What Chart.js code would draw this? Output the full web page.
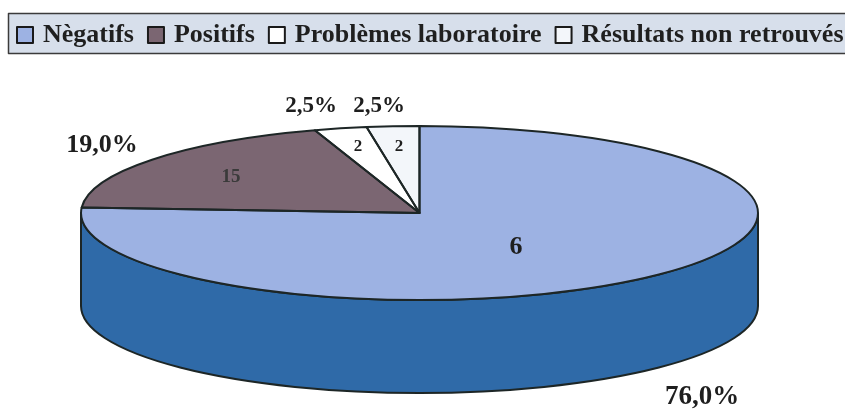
<!DOCTYPE html>
<html>
<head>
<meta charset="utf-8">
<script src="https://cdn.jsdelivr.net/npm/chart.js@4.4.1/dist/chart.umd.min.js"></script>
<style>
  html, body { margin: 0; padding: 0; background: #fff; overflow: hidden; }
  canvas { display: block; }
</style>
</head>
<body>
<canvas id="pieChart" width="845" height="409"></canvas>
<script>
const categories = ['Nègatifs', 'Positifs', 'Problèmes laboratoire', 'Résultats non retrouvés'];
const percents = [76.0, 19.0, 2.5, 2.5];
const counts = [6, 15, 2, 2];

const topColors = ['#9db2e3', '#7b6672', '#ffffff', '#f3f6fa'];
const sideColors = ['#2f6aa8', '#4e3f48', '#bfbfbf', '#b8bcc2'];
const edge = '#1d2626';
const depth = 93;
const serif = '"Liberation Serif", "Times New Roman", serif';

// label spots
const pctPos = [[702, 397], [102, 145], [311, 106], [379, 106]];
const pctSize = [27, 26, 23, 23];
const cntPos = [[516, 247], [231, 177], [358, 147], [399, 147]];
const cntSize = [26, 19, 17, 17];

function ellipseOf(chart) {
  const arc = chart.getDatasetMeta(0).data[0];
  const area = chart.chartArea;
  return { cx: arc.x, cy: arc.y, rx: (area.right - area.left) / 2, ry: arc.outerRadius };
}

const pie3d = {
  id: 'pie3d',
  beforeDatasetsDraw(chart) {
    const ctx = chart.ctx;
    const e = ellipseOf(chart);
    // side wall (front half only)
    chart.getDatasetMeta(0).data.forEach((arc, i) => {
      const a1 = Math.max(arc.startAngle, 0);
      const a2 = Math.min(arc.endAngle, Math.PI);
      if (a2 <= a1) return;
      ctx.beginPath();
      ctx.ellipse(e.cx, e.cy, e.rx, e.ry, 0, a1, a2);
      ctx.ellipse(e.cx, e.cy + depth, e.rx, e.ry, 0, a2, a1, true);
      ctx.closePath();
      ctx.fillStyle = sideColors[i];
      ctx.fill();
      ctx.lineWidth = 2;
      ctx.strokeStyle = edge;
      ctx.stroke();
    });
    // squash the round pie into the flat top face
    ctx.save();
    ctx.translate(e.cx, 0);
    ctx.scale(e.rx / e.ry, 1);
    ctx.translate(-e.cx, 0);
  },
  afterDatasetsDraw(chart) {
    const ctx = chart.ctx;
    ctx.restore();
    const e = ellipseOf(chart);
    ctx.lineWidth = 2;
    ctx.strokeStyle = edge;
    ctx.lineJoin = 'round';
    chart.getDatasetMeta(0).data.forEach(arc => {
      ctx.beginPath();
      ctx.moveTo(e.cx, e.cy);
      ctx.ellipse(e.cx, e.cy, e.rx, e.ry, 0, arc.startAngle, arc.endAngle);
      ctx.closePath();
      ctx.stroke();
    });
  },
  afterDraw(chart) {
    const ctx = chart.ctx;
    ctx.save();

    // legend strip across the top
    ctx.fillStyle = '#d7dfeb';
    ctx.fillRect(8, 13, 850, 40);
    ctx.strokeStyle = '#3b3b3b';
    ctx.lineWidth = 1.5;
    ctx.strokeRect(8.5, 13.5, 850, 40);
    ctx.font = 'bold 26px ' + serif;
    ctx.textAlign = 'left';
    ctx.textBaseline = 'alphabetic';
    let x = 17;
    categories.forEach((name, i) => {
      ctx.fillStyle = topColors[i];
      ctx.fillRect(x, 27, 16, 16);
      ctx.strokeStyle = '#1a1a1a';
      ctx.lineWidth = 2;
      ctx.strokeRect(x, 27, 16, 16);
      ctx.fillStyle = '#1f1f1f';
      ctx.fillText(name, x + 26, 42);
      x += 26 + ctx.measureText(name).width + 14;
    });

    // percentages outside, counts inside
    ctx.textAlign = 'center';
    ctx.textBaseline = 'middle';
    ctx.fillStyle = '#1e1e1e';
    percents.forEach((p, i) => {
      ctx.font = 'bold ' + pctSize[i] + 'px ' + serif;
      ctx.fillText(p.toFixed(1).replace('.', ',') + '%', pctPos[i][0], pctPos[i][1]);
    });
    counts.forEach((c, i) => {
      ctx.font = 'bold ' + cntSize[i] + 'px ' + serif;
      ctx.fillStyle = i === 1 ? '#3a3a3a' : '#1e1e1e';
      ctx.fillText(String(c), cntPos[i][0], cntPos[i][1]);
    });
    ctx.restore();
  }
};

const ctx = document.getElementById('pieChart').getContext('2d');
const pieChart = new Chart(ctx, {
  type: 'pie',
  data: {
    labels: categories,
    datasets: [{
      data: percents,
      backgroundColor: topColors,
      borderWidth: 0,
      clip: false,
    }],
  },
  options: {
    responsive: false,
    animation: false,
    events: [],
    layout: { padding: { left: 81, right: 87, top: 126, bottom: 109 } },
    plugins: {
      legend: { display: false },
      tooltip: { enabled: false },
    },
  },
  plugins: [pie3d],
});
</script>
</body>
</html>
